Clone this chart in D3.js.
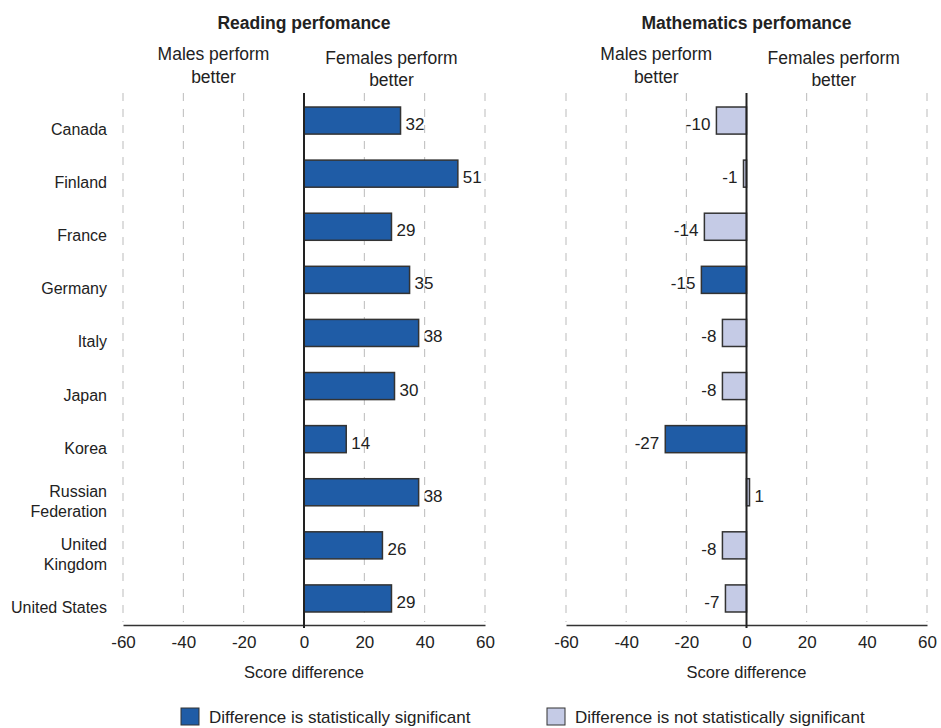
<!DOCTYPE html>
<html>
<head>
<meta charset="utf-8">
<script src="https://cdn.jsdelivr.net/npm/d3@7/dist/d3.min.js"></script>
<style>
  html, body { margin: 0; padding: 0; background: #fff; }
  svg { display: block; font-family: "Liberation Sans", Arial, sans-serif; }
</style>
</head>
<body>
<svg id="chart" width="941" height="728"></svg>
<script>
const countries = ["Canada", "Finland", "France", "Germany", "Italy", "Japan", "Korea", "Russian Federation", "United Kingdom", "United States"];
const countryLines = [["Canada"], ["Finland"], ["France"], ["Germany"], ["Italy"], ["Japan"], ["Korea"], ["Russian", "Federation"], ["United", "Kingdom"], ["United States"]];
const readingValues = [32, 51, 29, 35, 38, 30, 14, 38, 26, 29];
const readingSignificant = [true, true, true, true, true, true, true, true, true, true];
const mathValues = [-10, -1, -14, -15, -8, -8, -27, 1, -8, -7];
const mathSignificant = [false, false, false, true, false, false, true, false, false, false];
const tickValues = [-60, -40, -20, 0, 20, 40, 60];
const panelTitles = ["Reading perfomance", "Mathematics perfomance"];
const sideLabels = [["Males perform", "better"], ["Females perform", "better"]];
const axisTitle = "Score difference";
const legendLabels = ["Difference is statistically significant", "Difference is not statistically significant"];

const COLOR_SIG = "#1f5ca6";
const COLOR_NS = "#c5cbe6";
const TEXT = "#222";

const svg = d3.select("#chart");

const y = d3.scaleBand().domain(countries).range([94, 625]).paddingInner(0.49).paddingOuter(0.245);

const panels = [
  { title: panelTitles[0], values: readingValues, sig: readingSignificant, range: [123, 485] },
  { title: panelTitles[1], values: mathValues, sig: mathSignificant, range: [566, 927] }
];

panels.forEach(p => {
  const x = d3.scaleLinear().domain([-60, 60]).range(p.range);
  const g = svg.append("g");

  // gridlines
  g.selectAll("line.grid").data(tickValues.filter(t => t !== 0)).join("line")
    .attr("x1", d => x(d)).attr("x2", d => x(d))
    .attr("y1", 93).attr("y2", 622)
    .attr("stroke", "#bbb").attr("stroke-width", 1)
    .attr("stroke-dasharray", "8,8");

  // axis
  const axis = d3.axisBottom(x).tickValues(tickValues).tickSize(0).tickPadding(10).tickFormat(d => String(d));
  const ag = g.append("g").attr("transform", "translate(0,625)").call(axis);
  ag.select(".domain").attr("stroke", "#333").attr("stroke-width", 1.5);
  ag.selectAll("text").attr("font-size", "17px").attr("fill", TEXT)
    .attr("font-family", "Liberation Sans, Arial, sans-serif").attr("dy", "0.75em");

  // bars
  const rows = countries.map((c, i) => ({ c, v: p.values[i], s: p.sig[i] }));
  g.selectAll("rect.bar").data(rows).join("rect")
    .attr("x", d => x(Math.min(0, d.v)))
    .attr("width", d => Math.abs(x(d.v) - x(0)))
    .attr("y", d => y(d.c))
    .attr("height", y.bandwidth())
    .attr("fill", d => d.s ? COLOR_SIG : COLOR_NS)
    .attr("stroke", "#333").attr("stroke-width", 1.5);

  // value labels
  g.selectAll("text.val").data(rows).join("text")
    .attr("x", d => d.v >= 0 ? x(d.v) + 5 : x(d.v) - 6)
    .attr("y", d => y(d.c) + y.bandwidth() / 2 + 9.5)
    .attr("text-anchor", d => d.v >= 0 ? "start" : "end")
    .attr("font-size", "17px").attr("fill", TEXT)
    .text(d => String(d.v));

  // zero line
  g.append("line").attr("x1", x(0)).attr("x2", x(0)).attr("y1", 93).attr("y2", 628)
    .attr("stroke", "#222").attr("stroke-width", 2);

  // title
  g.append("text").attr("x", x(0)).attr("y", 29).attr("text-anchor", "middle")
    .attr("font-size", "17.5px").attr("font-weight", "bold").attr("fill", TEXT).text(p.title);

  // side labels
  const sideX = [(x(-60) + x(0)) / 2, (x(0) + x(60)) / 2 - 3];
  const sideY = [60, 63.5];
  sideLabels.forEach((lines, k) => {
    lines.forEach((ln, j) => {
      g.append("text").attr("x", sideX[k]).attr("y", sideY[k] + j * 22.5)
        .attr("text-anchor", "middle").attr("font-size", "17.5px").attr("fill", TEXT).text(ln);
    });
  });

  // axis title
  g.append("text").attr("x", x(0)).attr("y", 678).attr("text-anchor", "middle")
    .attr("font-size", "16.5px").attr("fill", TEXT).text(axisTitle);
});

// category labels
countries.forEach((c, i) => {
  const lines = countryLines[i];
  const cy = y(c) + y.bandwidth() / 2;
  const lh = 19.5;
  lines.forEach((ln, j) => {
    svg.append("text").attr("x", 107)
      .attr("y", cy + 14.5 - (lines.length - 1) * lh / 2 + j * lh)
      .attr("text-anchor", "end").attr("font-size", "16px").attr("fill", TEXT).text(ln);
  });
});

// legend
const legend = [
  { label: legendLabels[0], color: COLOR_SIG, x: 181 },
  { label: legendLabels[1], color: COLOR_NS, x: 547 }
];
legend.forEach(l => {
  svg.append("rect").attr("x", l.x).attr("y", 708).attr("width", 18).attr("height", 17)
    .attr("fill", l.color).attr("stroke", "#333").attr("stroke-width", 1);
  svg.append("text").attr("x", l.x + 28).attr("y", 723).attr("font-size", "17px").attr("fill", TEXT).text(l.label);
});
</script>
</body>
</html>
